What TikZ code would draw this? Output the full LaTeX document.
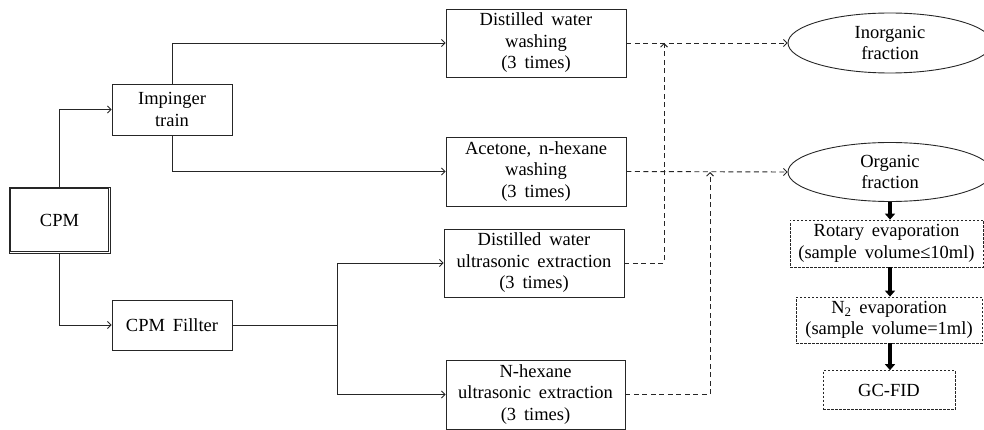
\documentclass[tikz,border=0pt]{standalone}
\usepackage{fontspec}
\setmainfont{Liberation Serif}[WordSpace=1.7]
\usetikzlibrary{arrows.meta,shapes.geometric}
\begin{document}
\begin{tikzpicture}[x=1pt,y=-1pt,
  every node/.style={font=\fontsize{18.5}{21.5}\selectfont,align=center,inner sep=0pt},
  box/.style={draw=black!85,line width=0.9pt,rectangle},
  dbox/.style={draw=black!85,line width=0.7pt,rectangle,dashed,dash pattern=on 2.5pt off 1.5pt},
  oval/.style={draw=black!85,line width=0.9pt,ellipse},
  plainline/.style={draw=black!85,line width=0.9pt},
  conn/.style={plainline,-{Straight Barb[length=3.5pt,width=7pt]}},
  dconn/.style={conn,dashed,dash pattern=on 5pt off 3.5pt},
  thickarr/.style={draw=black,line width=3.2pt,-{Triangle[length=6pt,width=10pt]}}
]
\useasboundingbox (0,0) rectangle (984,430);
\node[box,minimum width=101pt,minimum height=66pt] (cpm) at (59.5,220) {CPM};
\draw[plainline] ([shift={(2.2,2.2)}]cpm.north west) rectangle ([shift={(-2.2,-2.2)}]cpm.south east);
\node[box,minimum width=120pt,minimum height=51pt] (imp) at (172,109.5) {Impinger\\train};
\node[box,minimum width=120pt,minimum height=50pt] (fil) at (172,325) {CPM Fillter};
\node[box,minimum width=180pt,minimum height=68pt] (dw1) at (536,43) {Distilled water\\washing\\(3 times)};
\node[box,minimum width=180pt,minimum height=69pt] (ace) at (536,171.5) {Acetone, n-hexane\\washing\\(3 times)};
\node[box,minimum width=180pt,minimum height=68pt] (dw2) at (534,263) {Distilled water\\ultrasonic extraction\\(3 times)};
\node[box,minimum width=179pt,minimum height=69pt] (nh) at (535.5,394.5) {N-hexane\\ultrasonic extraction\\(3 times)};
\node[oval,minimum width=204pt,minimum height=60pt] (ino) at (890,43) {Inorganic\\fraction};
\node[oval,minimum width=204pt,minimum height=59pt] (org) at (890,172) {Organic\\fraction};
\node[dbox,minimum width=193pt,minimum height=47pt] (rot) at (886.5,243.5) {Rotary evaporation\\(sample volume≤10ml)};
\node[dbox,minimum width=186pt,minimum height=46pt] (n2) at (889,320) {N\textsubscript{2} evaporation\\(sample volume=1ml)};
\node[dbox,minimum width=132pt,minimum height=39pt] (gc) at (889,390) {GC-FID};
\coordinate (j) at (337,325);
\coordinate (c1) at (664,43);
\coordinate (c2) at (710,172);
\draw[conn] (cpm.north) |- (imp.west);
\draw[conn] (cpm.south) |- (fil.west);
\draw[conn] (imp.north) |- (dw1.west);
\draw[conn] (imp.south) |- (ace.west);
\draw[plainline] (fil.east) -- (j);
\draw[conn] (j) |- (dw2.west);
\draw[conn] (j) |- (nh.west);
\draw[dconn] (dw1.east) -- (ino.west);
\draw[dconn] (ace.east) -- (org.west);
\draw[dconn] (dw2.east) -| (c1);
\draw[dconn] (nh.east) -| (c2);
\draw[thickarr] (org.south) -- (org.south |- rot.north);
\draw[thickarr] (rot.south -| org.south) -- (org.south |- n2.north);
\draw[thickarr] (n2.south -| org.south) -- (org.south |- gc.north);
\end{tikzpicture}
\end{document}
